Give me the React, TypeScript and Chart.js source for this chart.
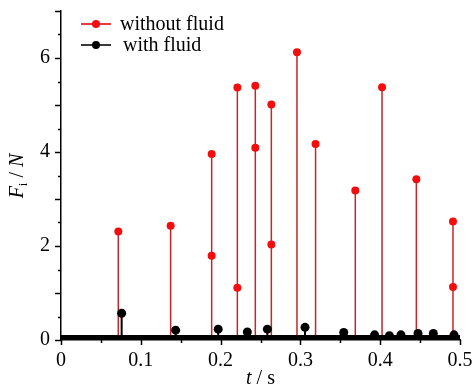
import React, { useEffect, useRef } from "react";
import { Chart, registerables } from "chart.js";

Chart.register(...registerables);

// Impact force peaks, time in s, force in N
const tWithout = [0.0718, 0.1374, 0.1888, 0.1888, 0.221, 0.221, 0.2435, 0.2435, 0.2636, 0.2636, 0.2957, 0.319, 0.3688, 0.4023, 0.4453, 0.4912, 0.4912];
const fWithout = [2.31, 2.43, 3.96, 1.79, 5.37, 1.11, 5.41, 4.09, 5.01, 2.03, 6.12, 4.17, 3.18, 5.38, 3.42, 2.52, 1.13];

const tWith = [0.076, 0.1437, 0.197, 0.2335, 0.2586, 0.3058, 0.3543, 0.393, 0.4115, 0.426, 0.4474, 0.4666, 0.4925];
const fWith = [0.57, 0.21, 0.23, 0.17, 0.23, 0.27, 0.16, 0.11, 0.09, 0.11, 0.14, 0.14, 0.11];

// Near-zero residual force of the damped case, drawn as a band along the axis
const residualT = [0, 0.5];
const residualF = [0.055, 0.055];

const seriesNames = ["without fluid", "with fluid"];

const RED_POINT = "#f50d0d";
const RED_STEM = "#c3272b";
const BLACK = "#000000";
const SERIF = '"Liberation Serif", "Times New Roman", serif';

type Pt = { x: number; y: number | null };

const toPoints = (ts: number[], fs: number[]): Pt[] => ts.map((t, i) => ({ x: t, y: fs[i] }));

// Vertical drop lines from zero up to each value, separated by gaps
const toStems = (ts: number[], fs: number[]): Pt[] => {
  const out: Pt[] = [];
  ts.forEach((t, i) => {
    out.push({ x: t, y: 0 }, { x: t, y: fs[i] }, { x: t, y: null });
  });
  return out;
};

const zeroPadding = (s: any) => {
  s.paddingLeft = 0;
  s.paddingRight = 0;
  s.paddingTop = 0;
  s.paddingBottom = 0;
};

const decorPlugin = {
  id: "decor",
  afterDraw(chart: any) {
    const { ctx, chartArea, scales } = chart;
    const { left, bottom, top, right } = chartArea;
    const x = scales.x;
    const y = scales.y;
    ctx.save();
    ctx.strokeStyle = BLACK;
    ctx.lineWidth = 1.5;

    // y tick marks: long on integers, short on halves
    for (let k = 0; k <= 14; k++) {
      const v = k * 0.5;
      const py = Math.round(y.getPixelForValue(v)) + 0.5;
      const len = k % 2 === 0 ? 6 : 3;
      ctx.beginPath();
      ctx.moveTo(left - len, py);
      ctx.lineTo(left, py);
      ctx.stroke();
    }
    // x tick marks: long every 0.1, short every 0.05
    for (let k = 0; k <= 10; k++) {
      const v = k * 0.05;
      const px = Math.round(x.getPixelForValue(v)) + 0.5;
      const len = k % 2 === 0 ? 5 : 3;
      ctx.beginPath();
      ctx.moveTo(px, bottom);
      ctx.lineTo(px, bottom + len);
      ctx.stroke();
    }

    ctx.fillStyle = BLACK;
    ctx.textBaseline = "alphabetic";

    // x axis title: t / s
    const cx = (left + right) / 2;
    ctx.font = `italic 20px ${SERIF}`;
    const wT = ctx.measureText("t").width;
    ctx.font = `20px ${SERIF}`;
    const wRest = ctx.measureText(" / s").width;
    const sx = cx - (wT + wRest) / 2;
    ctx.font = `italic 20px ${SERIF}`;
    ctx.fillText("t", sx, 384);
    ctx.font = `20px ${SERIF}`;
    ctx.fillText(" / s", sx + wT, 384);

    // y axis title: F_i / N
    ctx.save();
    ctx.translate(23, 176);
    ctx.rotate(-Math.PI / 2);
    const parts = [
      { text: "F", font: `italic 20px ${SERIF}`, dy: 0 },
      { text: "i", font: `13px ${SERIF}`, dy: 4 },
      { text: " / ", font: `20px ${SERIF}`, dy: 0 },
      { text: "N", font: `italic 20px ${SERIF}`, dy: 0 },
    ];
    let total = 0;
    const widths = parts.map((p) => {
      ctx.font = p.font;
      const w = ctx.measureText(p.text).width;
      total += w;
      return w;
    });
    let px = -total / 2;
    parts.forEach((p, i) => {
      ctx.font = p.font;
      ctx.fillText(p.text, px, p.dy);
      px += widths[i];
    });
    ctx.restore();

    // legend
    const entries = [
      { name: seriesNames[0], line: "#e3262a", dot: RED_POINT, y: 24, tx: 120 },
      { name: seriesNames[1], line: "#222222", dot: BLACK, y: 45, tx: 123 },
    ];
    entries.forEach((e) => {
      ctx.strokeStyle = e.line;
      ctx.lineWidth = 1.8;
      ctx.beginPath();
      ctx.moveTo(81, e.y);
      ctx.lineTo(111, e.y);
      ctx.stroke();
      ctx.fillStyle = e.dot;
      ctx.beginPath();
      ctx.arc(96, e.y, 4, 0, Math.PI * 2);
      ctx.fill();
      ctx.fillStyle = BLACK;
      ctx.font = `20px ${SERIF}`;
      ctx.fillText(e.name, e.tx, e.y + 6);
    });

    ctx.restore();
  },
};

export default function App() {
  const canvasRef = useRef<HTMLCanvasElement | null>(null);

  useEffect(() => {
    const canvas = canvasRef.current;
    if (!canvas) return;
    const chart = new Chart(canvas, {
      type: "line",
      data: {
        datasets: [
          {
            label: seriesNames[0],
            data: toPoints(tWithout, fWithout),
            showLine: false,
            pointRadius: 4,
            pointBackgroundColor: RED_POINT,
            pointBorderColor: RED_POINT,
            pointBorderWidth: 0,
            order: 1,
          },
          {
            label: seriesNames[1],
            data: toPoints(tWith, fWith),
            showLine: false,
            pointRadius: 4.5,
            pointBackgroundColor: BLACK,
            pointBorderColor: BLACK,
            pointBorderWidth: 0,
            order: 0,
          },
          {
            label: "residual",
            data: toPoints(residualT, residualF),
            borderColor: BLACK,
            borderWidth: 5,
            pointRadius: 0,
            order: 2,
          },
          {
            label: "stems without",
            data: toStems(tWithout, fWithout),
            borderColor: RED_STEM,
            borderWidth: 1.5,
            pointRadius: 0,
            spanGaps: false,
            order: 4,
          },
          {
            label: "stems with",
            data: toStems(tWith, fWith),
            borderColor: BLACK,
            borderWidth: 2,
            pointRadius: 0,
            spanGaps: false,
            order: 3,
          },
        ],
      },
      options: {
        responsive: false,
        animation: false,
        devicePixelRatio: 1,
        events: [],
        layout: { padding: { top: 11, right: 12, bottom: 0, left: 0 } },
        plugins: {
          legend: { display: false },
          tooltip: { enabled: false },
        },
        scales: {
          x: {
            type: "linear",
            min: 0,
            max: 0.5,
            grid: { display: false, drawTicks: false },
            border: { display: true, color: BLACK, width: 1.5 },
            ticks: {
              stepSize: 0.1,
              padding: 9,
              color: BLACK,
              font: { family: SERIF, size: 20 },
              callback: (v: any) => (Number(v) === 0 ? "0" : Number(v).toFixed(1)),
            },
            afterFit: (s: any) => {
              s.height = 47;
              zeroPadding(s);
            },
          },
          y: {
            type: "linear",
            min: 0,
            max: 7,
            grid: { display: false, drawTicks: false },
            border: { display: true, color: BLACK, width: 1.5 },
            ticks: {
              stepSize: 2,
              includeBounds: false,
              padding: 11,
              color: BLACK,
              font: { family: SERIF, size: 20 },
            },
            afterFit: (s: any) => {
              s.width = 61;
              zeroPadding(s);
            },
          },
        },
      },
      plugins: [decorPlugin],
    });
    return () => chart.destroy();
  }, []);

  return (
    <div style={{ position: "absolute", left: 0, top: 0, width: 472, height: 387, background: "#fff" }}>
      <canvas ref={canvasRef} width={472} height={387} />
    </div>
  );
}
